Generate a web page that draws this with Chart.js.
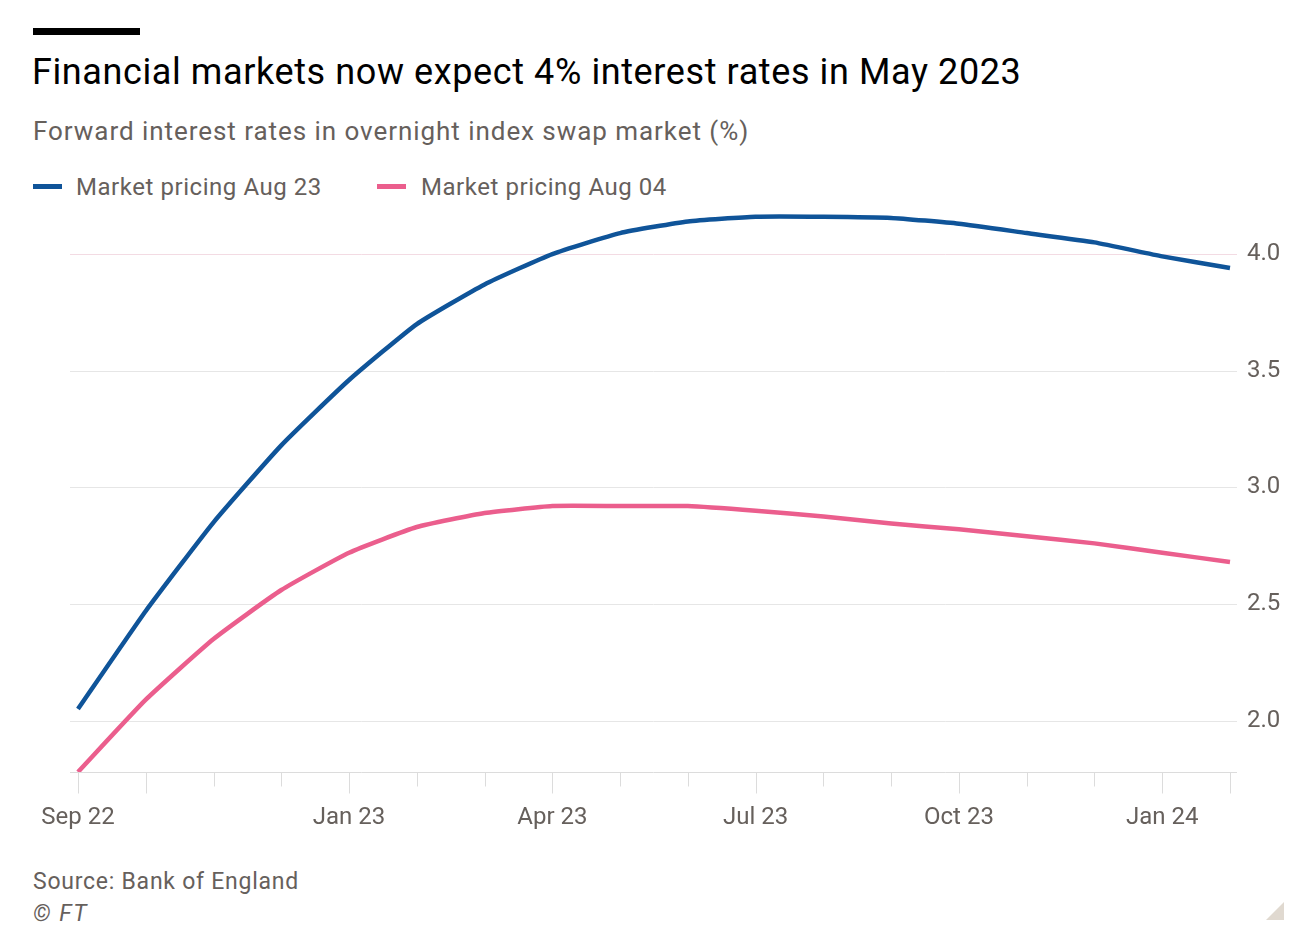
<!DOCTYPE html>
<html>
<head>
<meta charset="utf-8">
<script src="https://cdn.jsdelivr.net/npm/chart.js@4/dist/chart.umd.min.js"></script>
<style>
  html, body { margin: 0; padding: 0; background: #ffffff; }
  body { width: 1290px; height: 930px; position: relative; overflow: hidden; font-family: Roboto, "Noto Sans", sans-serif; }
  .bar { position: absolute; left: 33px; top: 28px; width: 107px; height: 7px; background: #000; }
  .title { position: absolute; left: 32px; top: 48px; font-size: 36px; letter-spacing: 0.6px; color: #000; white-space: nowrap; line-height: 48px; }
  .subtitle { position: absolute; left: 33px; top: 114px; font-size: 26px; letter-spacing: 0.95px; color: #66605c; white-space: nowrap; line-height: 34px; }
  .legend { position: absolute; top: 172px; left: 33px; font-size: 24px; letter-spacing: 0.55px; color: #66605c; white-space: nowrap; line-height: 30px; }
  .legend span.item { position: absolute; top: 0; }
  .legend span.sw { position: absolute; top: 12px; width: 29px; height: 5px; }
  .source { position: absolute; left: 33px; top: 867px; font-size: 23px; letter-spacing: 0.75px; color: #66605c; white-space: nowrap; line-height: 30px; }
  .ft { position: absolute; left: 33px; top: 899px; font-size: 23px; letter-spacing: 1.5px; color: #66605c; font-style: italic; line-height: 30px; }
  .corner { position: absolute; left: 1266px; top: 902px; width: 0; height: 0; border-left: 18px solid transparent; border-bottom: 18px solid #e0d9d0; }
  canvas { position: absolute; left: 0; top: 176px; }
</style>
</head>
<body>
<div class="bar"></div>
<div class="title">Financial markets now expect 4% interest rates in May 2023</div>
<div class="subtitle">Forward interest rates in overnight index swap market (%)</div>
<div class="legend">
  <span class="sw" style="left:0; background:#0f5499;"></span>
  <span class="item" style="left:43px;">Market pricing Aug 23</span>
  <span class="sw" style="left:344px; background:#eb5e8d;"></span>
  <span class="item" style="left:388px;">Market pricing Aug 04</span>
</div>
<canvas id="c" width="1290" height="664"></canvas>
<div class="source">Source: Bank of England</div>
<div class="ft">© FT</div>
<div class="corner"></div>
<script>
const months = ["Sep 22","Oct 22","Nov 22","Dec 22","Jan 23","Feb 23","Mar 23","Apr 23","May 23","Jun 23","Jul 23","Aug 23","Sep 23","Oct 23","Nov 23","Dec 23","Jan 24","Feb 24"];
const shownLabels = ["Sep 22","Jan 23","Apr 23","Jul 23","Oct 23","Jan 24"];
const longTickMonths = ["Sep 22","Oct 22","Jan 23","Apr 23","Jul 23","Oct 23","Jan 24","Feb 24"];
const pricingAug23 = [2.05,2.47,2.85,3.18,3.46,3.70,3.87,4.00,4.09,4.14,4.16,4.16,4.155,4.13,4.09,4.05,3.99,3.94];
const pricingAug04 = [1.78,2.09,2.35,2.56,2.72,2.83,2.89,2.92,2.92,2.92,2.90,2.875,2.845,2.82,2.79,2.76,2.72,2.68];
const yTicks = [2.0,2.5,3.0,3.5,4.0];
const seriesNames = ["Market pricing Aug 23","Market pricing Aug 04"];

const ftGrid = {
  id: 'ftGrid',
  beforeDatasetsDraw(chart) {
    const ctx = chart.ctx;
    const y = chart.scales.y, x = chart.scales.x;
    const left = chart.chartArea.left - 8, right = chart.chartArea.right + 7;
    ctx.save();
    ctx.lineWidth = 1;
    yTicks.forEach(v => {
      const py = Math.round(y.getPixelForValue(v)) + 0.5;
      ctx.strokeStyle = v === 4.0 ? '#f3dbe3' : '#e6e6e6';
      ctx.beginPath(); ctx.moveTo(left, py); ctx.lineTo(right, py); ctx.stroke();
    });
    const by = Math.round(y.getPixelForValue(y.min)) + 0.5;
    ctx.strokeStyle = '#dcdcdc';
    ctx.beginPath(); ctx.moveTo(left, by); ctx.lineTo(right, by); ctx.stroke();
    months.forEach((m, i) => {
      const px = Math.round(x.getPixelForValue(i)) + 0.5;
      const len = longTickMonths.includes(m) ? 21 : 14;
      ctx.beginPath(); ctx.moveTo(px, by); ctx.lineTo(px, by + len); ctx.stroke();
    });
    ctx.restore();
  }
};

new Chart(document.getElementById('c'), {
  type: 'line',
  data: {
    labels: months,
    datasets: [
      { label: seriesNames[0], data: pricingAug23, borderColor: '#0f5499', borderWidth: 4.5, pointRadius: 0, tension: 0.15, fill: false },
      { label: seriesNames[1], data: pricingAug04, borderColor: '#eb5e8d', borderWidth: 4.5, pointRadius: 0, tension: 0.15, fill: false }
    ]
  },
  options: {
    responsive: false,
    animation: false,
    layout: { padding: { left: 78, top: 2, right: 0, bottom: 0 } },
    plugins: { legend: { display: false }, tooltip: { enabled: false } },
    scales: {
      x: {
        grid: { display: false, drawTicks: false },
        border: { display: false },
        ticks: {
          autoSkip: false, maxRotation: 0, padding: 32,
          color: '#66605c', font: { family: 'Roboto', size: 24 },
          callback: function(v, i) { return shownLabels.includes(months[i]) ? months[i] : ''; }
        },
        afterFit: s => { s.height = 68; }
      },
      y: {
        position: 'right',
        min: 1.78, max: 4.2,
        grid: { display: false, drawTicks: false },
        border: { display: false },
        ticks: {
          stepSize: 0.5, includeBounds: false, padding: 17,
          color: '#66605c', font: { family: 'Roboto', size: 24 },
          callback: v => Number(v).toFixed(1)
        },
        afterFit: s => { s.width = 60; }
      }
    }
  },
  plugins: [ftGrid]
});
</script>
</body>
</html>
